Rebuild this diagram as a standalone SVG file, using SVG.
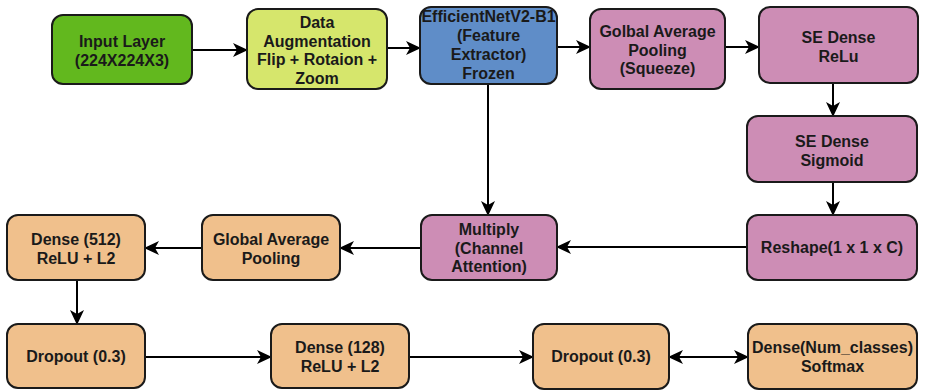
<svg xmlns="http://www.w3.org/2000/svg" width="933" height="391" viewBox="0 0 933 391">
<style>
.n{stroke:#1a1a1a;stroke-width:2}
.g{fill:#62b81e}.y{fill:#d6e66c}.b{fill:#5f8dc8}.p{fill:#cd8db5}.o{fill:#f0c08c}
text{font-family:"Liberation Sans",Arial,sans-serif;font-weight:bold;font-size:16px;fill:#1a1a1a;text-anchor:middle}
.c{stroke:#000;stroke-width:2;fill:none;marker-end:url(#ah)}
</style>
<defs>
<marker id="ah" viewBox="0 0 15 14" markerWidth="15" markerHeight="14" refX="14" refY="7" orient="auto-start-reverse" markerUnits="userSpaceOnUse">
<path d="M0,0 L15,7 L0,14 L4,7 z" fill="#000"/>
</marker>
</defs>
<rect width="933" height="391" fill="#fff"/>
<g id="connectors">
<line class="c" x1="192" y1="50" x2="247" y2="50"/>
<line class="c" x1="387" y1="48" x2="420" y2="48"/>
<line class="c" x1="557" y1="47" x2="590" y2="47"/>
<line class="c" x1="725" y1="47" x2="759" y2="47"/>
<line class="c" x1="833" y1="83" x2="833" y2="116"/>
<line class="c" x1="833" y1="182" x2="833" y2="215"/>
<line class="c" x1="747" y1="247" x2="557" y2="247"/>
<line class="c" x1="488" y1="84" x2="488" y2="215"/>
<line class="c" x1="421" y1="248" x2="340" y2="248"/>
<line class="c" x1="202" y1="248" x2="145" y2="248"/>
<line class="c" x1="77" y1="280" x2="77" y2="324"/>
<line class="c" x1="145" y1="357" x2="271" y2="357"/>
<line class="c" x1="409" y1="357" x2="533" y2="357"/>
<line class="c" x1="669" y1="357" x2="748" y2="357" marker-start="url(#ah)"/>
</g>
<g id="input">
<rect class="n g" x="52" y="15" width="140" height="69" rx="11"/>
<text x="122" y="47">Input Layer</text>
<text x="122" y="66">(224X224X3)</text>
</g>
<g id="augment">
<rect class="n y" x="247" y="9" width="140" height="80" rx="11"/>
<text x="317" y="28">Data</text>
<text x="317" y="46.5">Augmentation</text>
<text x="317" y="65">Flip + Rotaion +</text>
<text x="317" y="83.5">Zoom</text>
</g>
<g id="efficientnet">
<rect class="n b" x="420" y="7" width="137" height="77" rx="11"/>
<text x="488.5" y="22">EfficientNetV2-B1</text>
<text x="488.5" y="41">(Feature</text>
<text x="488.5" y="60">Extractor)</text>
<text x="488.5" y="79">Frozen</text>
</g>
<g id="gap-squeeze">
<rect class="n p" x="590" y="9" width="135" height="80" rx="11"/>
<text x="657.5" y="37">Golbal Average</text>
<text x="657.5" y="55.5">Pooling</text>
<text x="657.5" y="74">(Squeeze)</text>
</g>
<g id="se-relu">
<rect class="n p" x="759" y="7" width="159" height="76" rx="11"/>
<text x="838.5" y="43">SE Dense</text>
<text x="838.5" y="61.5">ReLu</text>
</g>
<g id="se-sigmoid">
<rect class="n p" x="747" y="116" width="170" height="66" rx="11"/>
<text x="832" y="147">SE Dense</text>
<text x="832" y="165.5">Sigmoid</text>
</g>
<g id="reshape">
<rect class="n p" x="747" y="215" width="170" height="65" rx="11"/>
<text x="832" y="253">Reshape(1 x 1 x C)</text>
</g>
<g id="multiply">
<rect class="n p" x="421" y="215" width="136" height="65" rx="11"/>
<text x="489" y="235">Multiply</text>
<text x="489" y="253.5">(Channel</text>
<text x="489" y="272">Attention)</text>
</g>
<g id="gap">
<rect class="n o" x="202" y="215" width="138" height="65" rx="11"/>
<text x="271" y="245">Global Average</text>
<text x="271" y="263.5">Pooling</text>
</g>
<g id="dense512">
<rect class="n o" x="7" y="215" width="138" height="65" rx="11"/>
<text x="76" y="245">Dense (512)</text>
<text x="76" y="263.5">ReLU + L2</text>
</g>
<g id="dropout1">
<rect class="n o" x="7" y="324" width="138" height="64" rx="11"/>
<text x="76" y="362">Dropout (0.3)</text>
</g>
<g id="dense128">
<rect class="n o" x="271" y="324" width="138" height="64" rx="11"/>
<text x="340" y="353">Dense (128)</text>
<text x="340" y="371.5">ReLU + L2</text>
</g>
<g id="dropout2">
<rect class="n o" x="533" y="324" width="136" height="65" rx="11"/>
<text x="601" y="362">Dropout (0.3)</text>
</g>
<g id="dense-out">
<rect class="n o" x="748" y="324" width="169" height="65" rx="11"/>
<text x="832.5" y="353">Dense(Num_classes)</text>
<text x="832.5" y="371.5">Softmax</text>
</g>
</svg>
